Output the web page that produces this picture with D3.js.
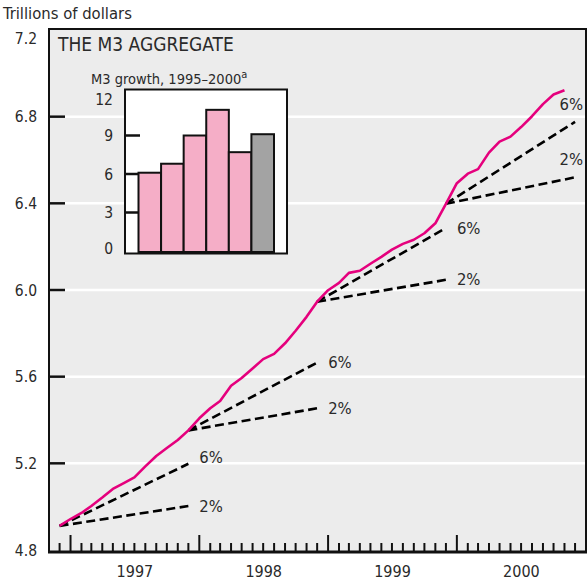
<!DOCTYPE html>
<html>
<head>
<meta charset="utf-8">
<script src="https://cdn.jsdelivr.net/npm/d3@7"></script>
<style>
  html, body { margin: 0; padding: 0; background: #fff; }
  svg { display: block; }
  text { font-family: "Liberation Sans Narrow", "DejaVu Sans Condensed", "Roboto", sans-serif; fill: #2a2a2a; }
</style>
</head>
<body>
<svg id="chart" width="588" height="583"></svg>
<script>
// ---------------- DATA ----------------
const firstMonth = "1996-12";           // first observation of the M3 series
const m3Values = [                       // trillions of dollars, monthly Dec 1996 – Nov 2000
  4.911, 4.943, 4.971, 5.003, 5.042, 5.082, 5.109, 5.135, 5.186, 5.234, 5.271, 5.308,
  5.352, 5.408, 5.454, 5.488, 5.558, 5.594, 5.638, 5.681, 5.705, 5.754, 5.812, 5.876,
  5.946, 5.999, 6.033, 6.079, 6.089, 6.121, 6.153, 6.186, 6.213, 6.232, 6.262, 6.308,
  6.398, 6.493, 6.537, 6.558, 6.634, 6.685, 6.708, 6.752, 6.802, 6.858, 6.902, 6.922
];
const projStartMonths = ["1996-12", "1997-12", "1998-12", "1999-12"];
const projEndMonths   = ["1997-12", "1998-12", "1999-12", "2000-12"];
const projStartValues = [4.911, 5.352, 5.946, 6.398];
const proj2EndValues  = [5.003, 5.454, 6.047, 6.520];
const proj6EndValues  = [5.198, 5.665, 6.286, 6.776];
const projLabels = ["2%", "6%"];

const yTicks = [4.8, 5.2, 5.6, 6.0, 6.4, 6.8, 7.2];
const yearLabels = ["1997", "1998", "1999", "2000"];

const growthYears  = ["1995", "1996", "1997", "1998", "1999", "2000"];
const growthValues = [6.1, 6.8, 9.0, 11.0, 7.7, 9.1];
const growthTicks  = [0, 3, 6, 9, 12];

const titleText = "THE M3 AGGREGATE";
const unitText = "Trillions of dollars";
const insetTitle = "M3 growth, 1995\u20132000";
const insetNote = "a";

// ---------------- LAYOUT ----------------
const svg = d3.select("#chart");
const parseM = d3.timeParse("%Y-%m");
const pLeft = 49, pRight = 586, pTop = 30, pBottom = 550;

const x = d3.scaleTime()
  .domain([parseM("1996-11"), parseM("2001-01")])
  .range([pLeft, pRight]);
const y = d3.scaleLinear().domain([4.8, 7.2]).range([pBottom, pTop]);

// plot background
svg.append("rect")
  .attr("x", pLeft).attr("y", pTop - 1)
  .attr("width", pRight - pLeft).attr("height", 553 - pTop + 1)
  .attr("fill", "#ececec");

// white gridlines
svg.append("g").selectAll("line")
  .data(yTicks.filter(d => d > 4.8 && d < 7.2))
  .join("line")
  .attr("x1", pLeft).attr("x2", pRight)
  .attr("y1", d => y(d)).attr("y2", d => y(d))
  .attr("stroke", "#fff").attr("stroke-width", 2.5);

// left ticks (inward) + labels
const yAxisG = svg.append("g");
yAxisG.selectAll("line")
  .data(yTicks.filter(d => d > 4.8 && d < 7.2))
  .join("line")
  .attr("x1", pLeft).attr("x2", pLeft + 16)
  .attr("y1", d => y(d)).attr("y2", d => y(d))
  .attr("stroke", "#111").attr("stroke-width", 2.5);
yAxisG.selectAll("text")
  .data(yTicks)
  .join("text")
  .attr("x", 37)
  .attr("y", d => Math.max(y(d), 38) + 5.5)
  .attr("text-anchor", "end")
  .attr("font-size", 15.5)
  .text(d => d3.format(".1f")(d));

// x ticks (monthly, yearly taller)
const monthTicks = d3.timeMonth.range(parseM("1996-12"), parseM("2001-01"));
svg.append("g").selectAll("line")
  .data(monthTicks)
  .join("line")
  .attr("x1", d => x(d)).attr("x2", d => x(d))
  .attr("y1", 552)
  .attr("y2", d => d.getMonth() === 0 ? 535 : 543)
  .attr("stroke", "#111").attr("stroke-width", 2);

// year labels centred in each year
svg.append("g").selectAll("text")
  .data(yearLabels)
  .join("text")
  .attr("x", d => (x(parseM(d + "-01")) + x(parseM((+d + 1) + "-01"))) / 2)
  .attr("y", 577)
  .attr("text-anchor", "middle")
  .attr("font-size", 16)
  .text(d => d);

// frame (left, top, right) and bottom axis
svg.append("path")
  .attr("d", `M${pLeft},553 V${pTop - 1} H${pRight} V553`)
  .attr("fill", "none").attr("stroke", "#111").attr("stroke-width", 2);
svg.append("line")
  .attr("x1", pLeft - 1).attr("x2", pRight + 1)
  .attr("y1", 552).attr("y2", 552)
  .attr("stroke", "#111").attr("stroke-width", 3);

// projection dashed lines
const projG = svg.append("g");
projStartMonths.forEach((sm, i) => {
  const x0 = x(parseM(sm)), y0 = y(projStartValues[i]);
  const x1 = x(parseM(projEndMonths[i]));
  const ends = [proj2EndValues[i], proj6EndValues[i]];
  ends.forEach((v, j) => {
    projG.append("line")
      .attr("x1", x0).attr("y1", y0)
      .attr("x2", x1).attr("y2", y(v))
      .attr("stroke", "#000").attr("stroke-width", 2.6)
      .attr("stroke-dasharray", "9,4.5");
    const last = i === projStartMonths.length - 1;
    projG.append("text")
      .attr("x", last ? x1 + 8 : x1 + 11)
      .attr("y", last ? y(v) - 12 : y(v) + 5.5 - (j === 1 && i === 0 ? 6 : 0))
      .attr("text-anchor", last ? "end" : "start")
      .attr("font-size", 16.5)
      .text(projLabels[j]);
  });
});

// M3 line
const m3Data = m3Values.map((v, i) => ({ date: d3.timeMonth.offset(parseM(firstMonth), i), value: v }));
svg.append("path")
  .datum(m3Data)
  .attr("d", d3.line().x(d => x(d.date)).y(d => y(d.value)))
  .attr("fill", "none")
  .attr("stroke", "#e5007d")
  .attr("stroke-width", 2.6)
  .attr("stroke-linejoin", "round");

// title + unit
svg.append("text").attr("x", 3).attr("y", 19).attr("font-size", 16.5).text(unitText);
svg.append("text").attr("x", 58).attr("y", 51).attr("font-size", 19).attr("fill", "#111").text(titleText);

// ---------------- INSET ----------------
const ix = d3.scaleBand().domain(growthYears).range([138.5, 274]).padding(0);
const iy = d3.scaleLinear().domain([0, 12]).range([251, 97]);
const inset = svg.append("g");
inset.append("rect")
  .attr("x", 125).attr("y", 89.5).attr("width", 162).attr("height", 164)
  .attr("fill", "#fff").attr("stroke", "#111").attr("stroke-width", 2);
inset.selectAll("line.tk")
  .data(growthTicks.filter(d => d > 0 && d < 12))
  .join("line").attr("class", "tk")
  .attr("x1", 125).attr("x2", 140)
  .attr("y1", d => iy(d)).attr("y2", d => iy(d))
  .attr("stroke", "#111").attr("stroke-width", 2.5);
inset.selectAll("rect.bar")
  .data(growthValues)
  .join("rect").attr("class", "bar")
  .attr("x", (d, i) => ix(growthYears[i]))
  .attr("width", ix.bandwidth())
  .attr("y", d => iy(d))
  .attr("height", d => iy(0) - iy(d) + 1)
  .attr("fill", (d, i) => i === growthValues.length - 1 ? "#a3a3a3" : "#f5aec7")
  .attr("stroke", "#111").attr("stroke-width", 2);
inset.selectAll("text.tl")
  .data(growthTicks)
  .join("text").attr("class", "tl")
  .attr("x", 113)
  .attr("y", d => Math.min(Math.max(iy(d), 99), 248) + 5.5)
  .attr("text-anchor", "end")
  .attr("font-size", 15.5)
  .text(d => d);
const it = inset.append("text").attr("x", 91).attr("y", 84).attr("font-size", 14.5);
it.append("tspan").text(insetTitle);
it.append("tspan").attr("dy", -6).attr("font-size", 11).text(insetNote);
</script>
</body>
</html>
